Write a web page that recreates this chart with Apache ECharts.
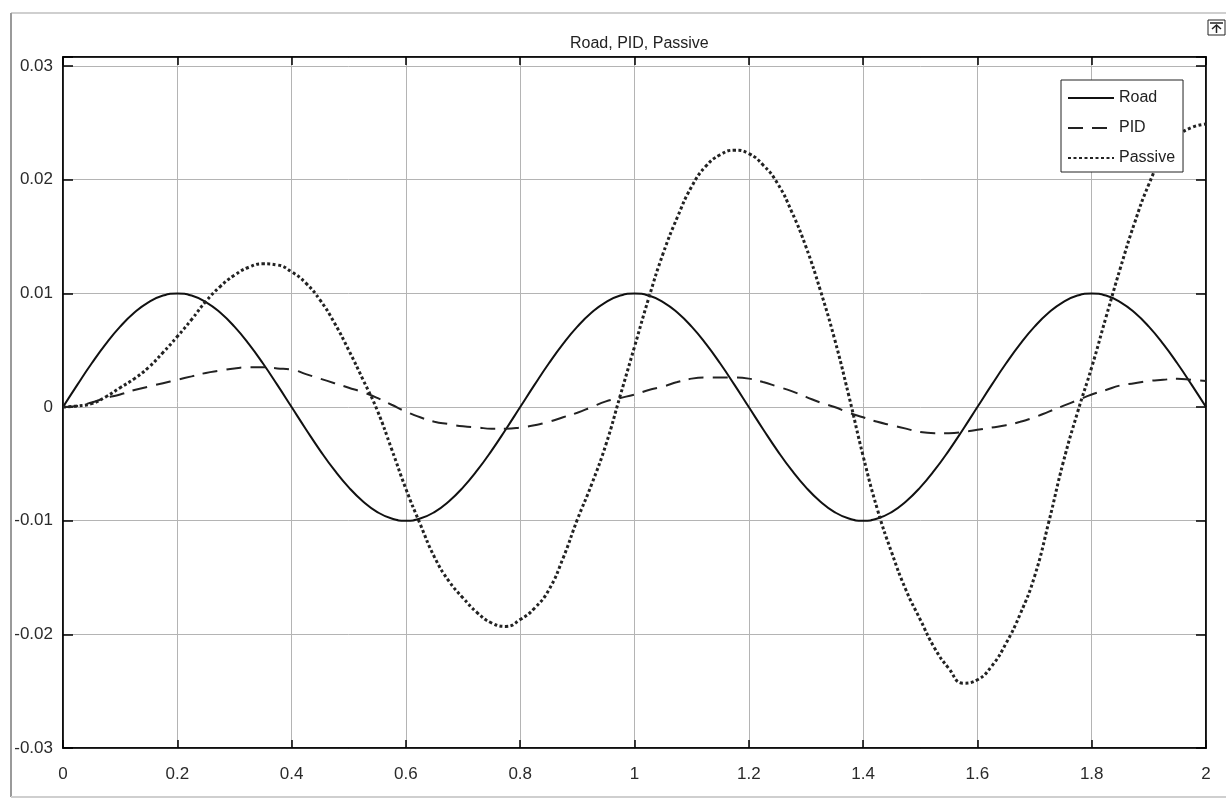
<!DOCTYPE html>
<html>
<head>
<meta charset="utf-8">
<title>Road, PID, Passive</title>
<script src="https://cdn.jsdelivr.net/npm/echarts@6/dist/echarts.min.js"></script>
<style>
  html, body { margin: 0; padding: 0; background: #fff; }
  #chart { width: 1226px; height: 802px; }
</style>
</head>
<body>
<div id="chart"></div>
<script>
  // time samples (s), 0.025 s apart
  var times = [0, 0.025, 0.05, 0.075, 0.1, 0.125, 0.15, 0.175, 0.2, 0.225,
    0.25, 0.275, 0.3, 0.325, 0.35, 0.375, 0.4, 0.425, 0.45, 0.475,
    0.5, 0.525, 0.55, 0.575, 0.6, 0.625, 0.65, 0.675, 0.7, 0.725,
    0.75, 0.775, 0.8, 0.825, 0.85, 0.875, 0.9, 0.925, 0.95, 0.975,
    1.0, 1.025, 1.05, 1.075, 1.1, 1.125, 1.15, 1.175, 1.2, 1.225,
    1.25, 1.275, 1.3, 1.325, 1.35, 1.375, 1.4, 1.425, 1.45, 1.475,
    1.5, 1.525, 1.55, 1.575, 1.6, 1.625, 1.65, 1.675, 1.7, 1.725,
    1.75, 1.775, 1.8, 1.825, 1.85, 1.875, 1.9, 1.925, 1.95, 1.975, 2.0];

  // road input
  var road = [0, 0.00195, 0.00383, 0.00556, 0.00707, 0.00831, 0.00924, 0.00981, 0.0100, 0.00981,
    0.00924, 0.00831, 0.00707, 0.00556, 0.00383, 0.00195, 0, -0.00195, -0.00383, -0.00556,
    -0.00707, -0.00831, -0.00924, -0.00981, -0.0100, -0.00981, -0.00924, -0.00831, -0.00707, -0.00556,
    -0.00383, -0.00195, 0, 0.00195, 0.00383, 0.00556, 0.00707, 0.00831, 0.00924, 0.00981,
    0.0100, 0.00981, 0.00924, 0.00831, 0.00707, 0.00556, 0.00383, 0.00195, 0, -0.00195,
    -0.00383, -0.00556, -0.00707, -0.00831, -0.00924, -0.00981, -0.0100, -0.00981, -0.00924, -0.00831,
    -0.00707, -0.00556, -0.00383, -0.00195, 0, 0.00195, 0.00383, 0.00556, 0.00707, 0.00831,
    0.00924, 0.00981, 0.0100, 0.00981, 0.00924, 0.00831, 0.00707, 0.00556, 0.00383, 0.00195, 0];

  // PID controlled response
  var pid = [0, 0.0001, 0.0004, 0.0008, 0.0011, 0.0015, 0.0018, 0.0021, 0.0024, 0.0027,
    0.0030, 0.0032, 0.0034, 0.0035, 0.0035, 0.0034, 0.0033, 0.0029, 0.0025, 0.0021,
    0.0017, 0.0013, 0.0008, 0.0002, -0.0004, -0.0009, -0.0013, -0.0015, -0.0017, -0.0018,
    -0.0019, -0.0019, -0.0018, -0.0016, -0.0013, -0.0009, -0.0005, 0.0000, 0.0005, 0.0008,
    0.0011, 0.0015, 0.0018, 0.0022, 0.0025, 0.0026, 0.0026, 0.0026, 0.0025, 0.0022,
    0.0018, 0.0014, 0.0009, 0.0004, 0.0000, -0.0005, -0.0009, -0.0013, -0.0016, -0.0019,
    -0.0022, -0.0023, -0.0023, -0.0022, -0.0020, -0.0018, -0.0016, -0.0013, -0.0009, -0.0004,
    0.0001, 0.0006, 0.0011, 0.0015, 0.0019, 0.0021, 0.0023, 0.0024, 0.0025, 0.0024, 0.0023];

  // passive response
  var passive = [0, 0.0001, 0.0003, 0.0009, 0.0017, 0.0025, 0.0035, 0.0048, 0.0062, 0.0077,
    0.0093, 0.0106, 0.0116, 0.0123, 0.0126, 0.0125, 0.0119, 0.0109, 0.0094, 0.0074,
    0.0050, 0.0024, -0.0003, -0.0037, -0.0072, -0.0103, -0.0132, -0.0153, -0.0168, -0.0181,
    -0.0190, -0.0193, -0.0187, -0.0177, -0.0161, -0.0133, -0.0099, -0.0068, -0.0033, 0.0010,
    0.0053, 0.0096, 0.0135, 0.0167, 0.0194, 0.0212, 0.0222, 0.0226, 0.0223, 0.0213,
    0.0197, 0.0172, 0.0141, 0.0103, 0.0060, 0.0010, -0.0043, -0.0090, -0.0128, -0.0161,
    -0.0187, -0.0212, -0.0230, -0.0243, -0.0240, -0.0228, -0.0208, -0.0182, -0.0149, -0.0101,
    -0.0049, -0.0005, 0.0035, 0.0079, 0.0122, 0.0162, 0.0196, 0.0222, 0.0238, 0.0246, 0.0249];

  var xTicks = ['0', '0.2', '0.4', '0.6', '0.8', '1', '1.2', '1.4', '1.6', '1.8', '2'];
  var yTicks = ['-0.03', '-0.02', '-0.01', '0', '0.01', '0.02', '0.03'];

  function pairs(vals) {
    return times.map(function (t, i) { return [t, vals[i]]; });
  }

  var font = 'Liberation Sans, Arial, sans-serif';
  var gridColor = '#b4b4b4';

  var chart = echarts.init(document.getElementById('chart'));

  chart.setOption({
    animation: false,
    backgroundColor: '#fff',
    title: {
      text: 'Road, PID, Passive',
      left: 565,
      top: 31,
      textStyle: { fontFamily: font, fontSize: 16, fontWeight: 'normal', color: '#222' }
    },
    legend: {
      orient: 'vertical',
      left: 1061,
      top: 80,
      padding: [10, 8, 6, 6],
      itemWidth: 46,
      itemHeight: 16,
      itemGap: 14,
      backgroundColor: '#fff',
      borderColor: '#222',
      borderWidth: 1,
      borderRadius: 0,
      itemStyle: { opacity: 0 },
      textStyle: { fontFamily: font, fontSize: 16, color: '#222' },
      data: ['Road', 'PID', 'Passive']
    },
    grid: {
      left: 63, right: 20, top: 57, bottom: 54,
      show: true, borderColor: '#000', borderWidth: 1.5
    },
    xAxis: [{
      type: 'value', min: 0, max: 2, interval: 0.2,
      axisLine: { show: true, onZero: false, lineStyle: { color: '#000', width: 1.5 } },
      axisTick: { show: true, inside: true, length: 8, lineStyle: { color: '#000', width: 1.5 } },
      axisLabel: {
        margin: 18, fontFamily: font, fontSize: 17, color: '#2a2a2a',
        formatter: function (v) {
          var k = Math.round(v * 5);
          return Math.abs(v * 5 - k) < 1e-6 ? xTicks[k] : '';
        }
      },
      splitLine: { show: true, lineStyle: { color: gridColor, width: 1 } }
    }, {
      type: 'value', position: 'top', min: 0, max: 2, interval: 0.2,
      axisLine: { show: true, onZero: false, lineStyle: { color: '#000', width: 1.5 } },
      axisTick: { show: true, inside: true, length: 8, lineStyle: { color: '#000', width: 1.5 } },
      axisLabel: { show: false },
      splitLine: { show: false }
    }],
    yAxis: [{
      type: 'value', min: -0.03, max: 0.0308, interval: 0.01,
      axisLine: { show: true, onZero: false, lineStyle: { color: '#000', width: 1.5 } },
      axisTick: { show: true, inside: true, length: 10, lineStyle: { color: '#000', width: 1.5 } },
      axisLabel: {
        margin: 10, fontFamily: font, fontSize: 17, color: '#2a2a2a',
        formatter: function (v) {
          var k = Math.round(v * 100);
          return Math.abs(v * 100 - k) < 1e-6 ? yTicks[k + 3] : '';
        }
      },
      splitLine: { show: true, lineStyle: { color: gridColor, width: 1 } }
    }, {
      type: 'value', position: 'right', min: -0.03, max: 0.0308, interval: 0.01,
      axisLine: { show: true, onZero: false, lineStyle: { color: '#000', width: 1.5 } },
      axisTick: { show: true, inside: true, length: 10, lineStyle: { color: '#000', width: 1.5 } },
      axisLabel: { show: false },
      splitLine: { show: false }
    }],
    series: [{
      name: 'Road', type: 'line', smooth: true, symbol: 'none',
      xAxisIndex: 0, yAxisIndex: 0,
      lineStyle: { color: '#111', width: 2, type: 'solid' },
      itemStyle: { color: '#111' },
      data: pairs(road)
    }, {
      name: 'PID', type: 'line', smooth: true, symbol: 'none',
      xAxisIndex: 0, yAxisIndex: 0,
      lineStyle: { color: '#222', width: 2, type: [15, 9] },
      itemStyle: { color: '#222' },
      data: pairs(pid)
    }, {
      name: 'Passive', type: 'line', smooth: true, symbol: 'none',
      xAxisIndex: 0, yAxisIndex: 0,
      lineStyle: { color: '#222', width: 3, type: [3, 2.5] },
      itemStyle: { color: '#222' },
      data: pairs(passive)
    }],
    graphic: [
      // window chrome
      { type: 'line', shape: { x1: 11, y1: 13, x2: 1226, y2: 13 }, style: { stroke: '#cfcfcf', lineWidth: 2 } },
      { type: 'line', shape: { x1: 11, y1: 13, x2: 11, y2: 797 }, style: { stroke: '#9a9a9a', lineWidth: 2 } },
      { type: 'line', shape: { x1: 11, y1: 797, x2: 1226, y2: 797 }, style: { stroke: '#cfcfcf', lineWidth: 2 } },
      // toolbar button
      { type: 'rect', shape: { x: 1208, y: 20, width: 17, height: 15 }, style: { fill: '#fff', stroke: '#222', lineWidth: 1 } },
      { type: 'line', shape: { x1: 1210, y1: 23, x2: 1223, y2: 23 }, style: { stroke: '#222', lineWidth: 1.5 } },
      { type: 'polyline', shape: { points: [[1212, 29], [1216.5, 25], [1221, 29]] }, style: { fill: 'none', stroke: '#222', lineWidth: 1.5 } },
      { type: 'line', shape: { x1: 1216.5, y1: 25, x2: 1216.5, y2: 33 }, style: { stroke: '#222', lineWidth: 1.5 } }
    ]
  });
</script>
</body>
</html>
